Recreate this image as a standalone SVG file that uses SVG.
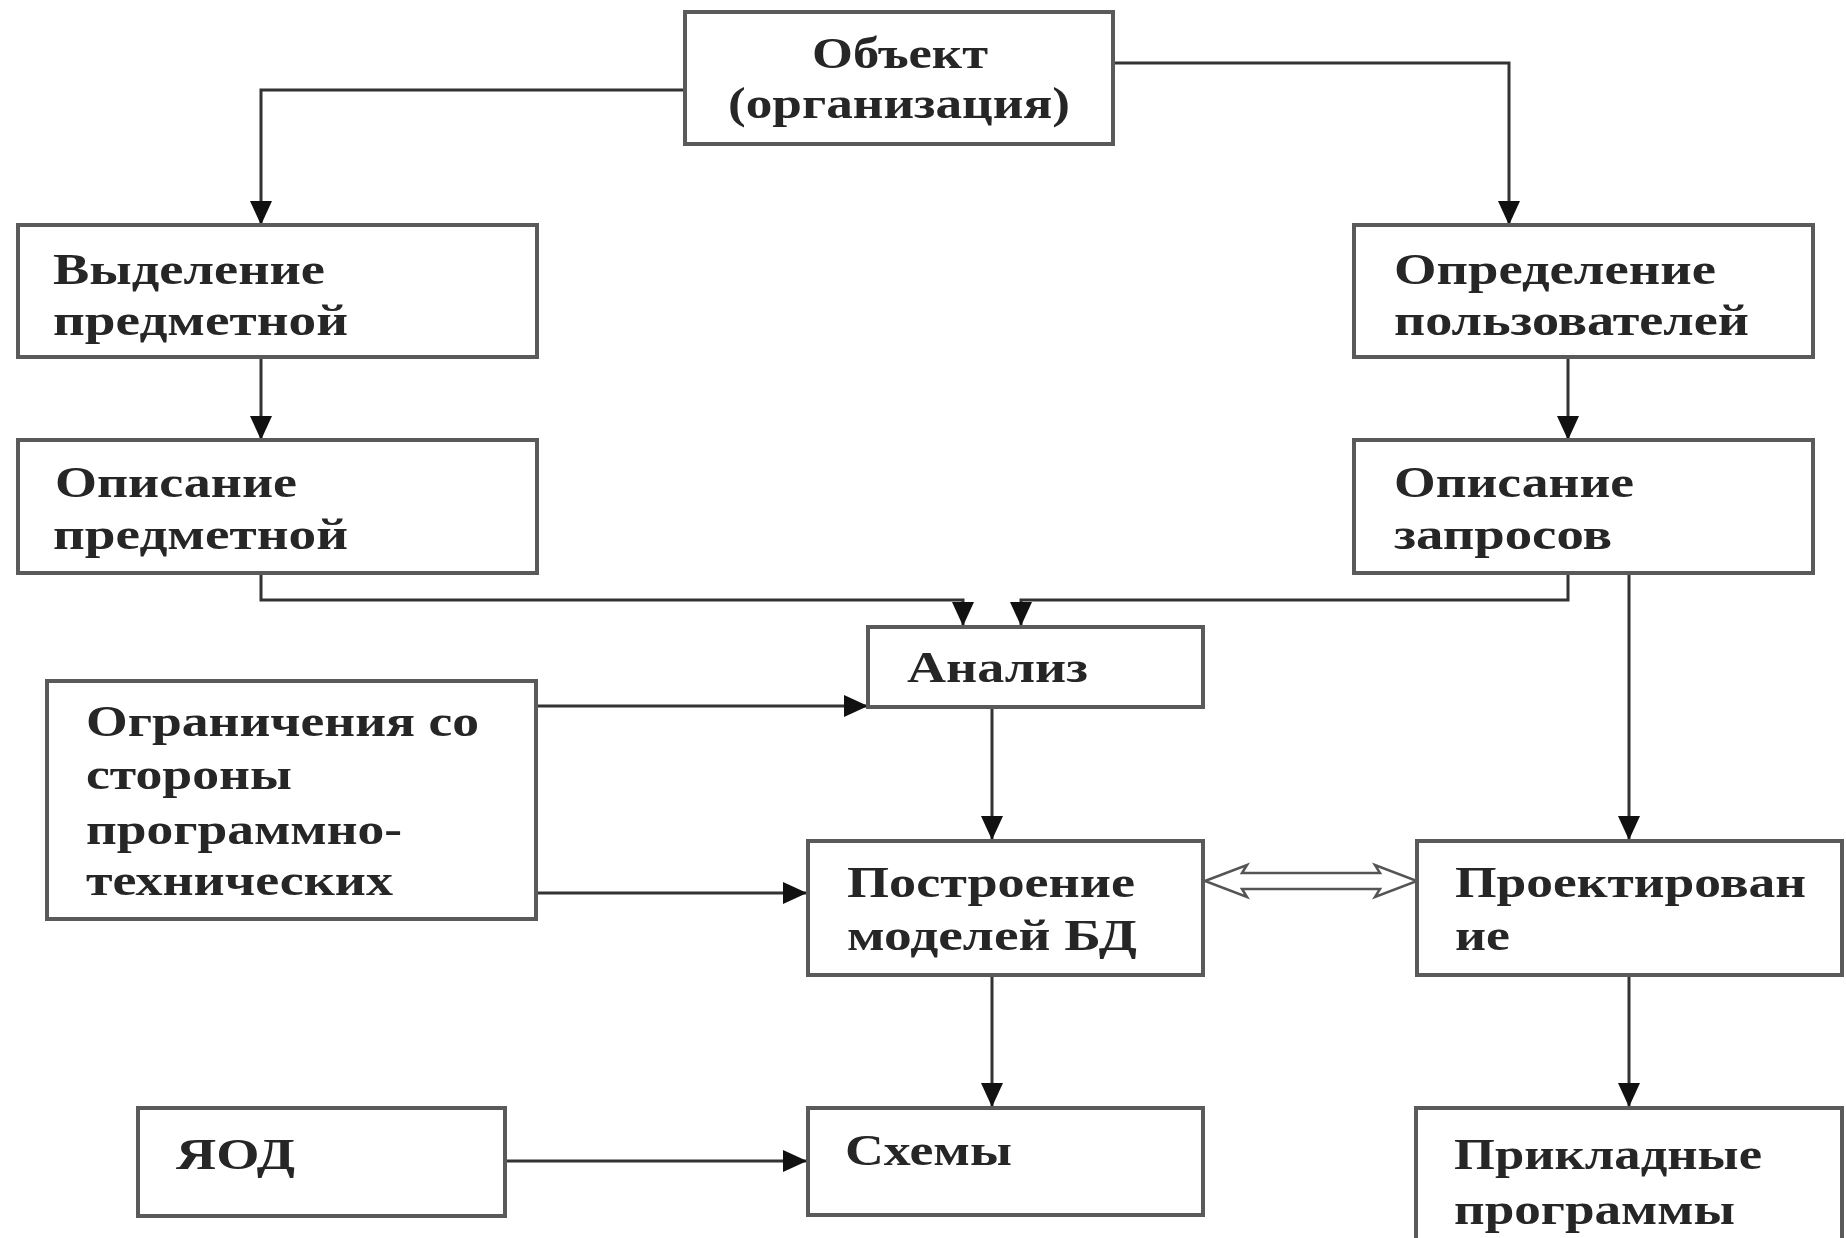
<svg xmlns="http://www.w3.org/2000/svg" width="1846" height="1238" viewBox="0 0 1846 1238">
<style>
.box{fill:#fff;stroke:#5a5a5a;stroke-width:4}
.t{font-family:"Liberation Serif","Times New Roman",serif;font-size:44px;font-weight:bold;fill:#262626}
.c{fill:none;stroke:#333;stroke-width:3}
.arr{marker-end:url(#ah)}
</style>
<defs>
<marker id="ah" markerUnits="userSpaceOnUse" viewBox="0 0 24 22" refX="24" refY="11" markerWidth="24" markerHeight="22" orient="auto">
<path d="M0,0 L24,11 L0,22 Z" fill="#111"/>
</marker>
</defs>
<rect width="1846" height="1238" fill="#fff"/>

<g id="connectors">
<path class="c arr" d="M685,90 H261 V225"/>
<path class="c arr" d="M1113,63 H1509 V225"/>
<path class="c arr" d="M261,357 V440"/>
<path class="c arr" d="M1568,357 V440"/>
<path class="c arr" d="M261,573 V600 H963 V626"/>
<path class="c arr" d="M1568,573 V600 H1021 V626"/>
<path class="c arr" d="M1629,573 V840"/>
<path class="c arr" d="M536,706 H868"/>
<path class="c arr" d="M536,893 H807"/>
<path class="c arr" d="M992,707 V840"/>
<path class="c arr" d="M992,975 V1107"/>
<path class="c arr" d="M1629,975 V1107"/>
<path class="c arr" d="M505,1161 H807"/>
<polygon points="1205,881 1247,865 1242,873 1380,873 1375,865 1417,881 1375,897 1380,889 1242,889 1247,897" fill="#fff" stroke="#555" stroke-width="2.5" stroke-linejoin="miter"/>
</g>

<g id="n-object">
<rect class="box" x="685" y="12" width="428" height="132"/>
<text class="t" x="812" y="68" textLength="176" lengthAdjust="spacingAndGlyphs">Объект</text>
<text class="t" x="728" y="118" textLength="342" lengthAdjust="spacingAndGlyphs">(организация)</text>
</g>

<g id="n-vydelenie">
<rect class="box" x="18" y="225" width="519" height="132"/>
<text class="t" x="53" y="284" textLength="272" lengthAdjust="spacingAndGlyphs">Выделение</text>
<text class="t" x="53" y="335" textLength="295" lengthAdjust="spacingAndGlyphs">предметной</text>
</g>

<g id="n-opisanie-pr">
<rect class="box" x="18" y="440" width="519" height="133"/>
<text class="t" x="55" y="497" textLength="242" lengthAdjust="spacingAndGlyphs">Описание</text>
<text class="t" x="53" y="549" textLength="295" lengthAdjust="spacingAndGlyphs">предметной</text>
</g>

<g id="n-opredelenie">
<rect class="box" x="1354" y="225" width="459" height="132"/>
<text class="t" x="1394" y="284" textLength="322" lengthAdjust="spacingAndGlyphs">Определение</text>
<text class="t" x="1394" y="335" textLength="355" lengthAdjust="spacingAndGlyphs">пользователей</text>
</g>

<g id="n-opisanie-zap">
<rect class="box" x="1354" y="440" width="459" height="133"/>
<text class="t" x="1394" y="497" textLength="240" lengthAdjust="spacingAndGlyphs">Описание</text>
<text class="t" x="1394" y="549" textLength="218" lengthAdjust="spacingAndGlyphs">запросов</text>
</g>

<g id="n-analiz">
<rect class="box" x="868" y="627" width="335" height="80"/>
<text class="t" x="907" y="682" textLength="181" lengthAdjust="spacingAndGlyphs">Анализ</text>
</g>

<g id="n-ogranicheniya">
<rect class="box" x="47" y="681" width="489" height="238"/>
<text class="t" x="86" y="736" textLength="393" lengthAdjust="spacingAndGlyphs">Ограничения со</text>
<text class="t" x="86" y="789" textLength="206" lengthAdjust="spacingAndGlyphs">стороны</text>
<text class="t" x="86" y="844" textLength="316" lengthAdjust="spacingAndGlyphs">программно-</text>
<text class="t" x="86" y="895" textLength="307" lengthAdjust="spacingAndGlyphs">технических</text>
</g>

<g id="n-postroenie">
<rect class="box" x="808" y="841" width="395" height="134"/>
<text class="t" x="847" y="897" textLength="288" lengthAdjust="spacingAndGlyphs">Построение</text>
<text class="t" x="847" y="950" textLength="290" lengthAdjust="spacingAndGlyphs">моделей БД</text>
</g>

<g id="n-proektirovanie">
<rect class="box" x="1417" y="841" width="425" height="134"/>
<text class="t" x="1455" y="897" textLength="351" lengthAdjust="spacingAndGlyphs">Проектирован</text>
<text class="t" x="1455" y="950" textLength="55" lengthAdjust="spacingAndGlyphs">ие</text>
</g>

<g id="n-yod">
<rect class="box" x="138" y="1108" width="367" height="108"/>
<text class="t" x="176" y="1169" textLength="119" lengthAdjust="spacingAndGlyphs">ЯОД</text>
</g>

<g id="n-skhemy">
<rect class="box" x="808" y="1108" width="395" height="107"/>
<text class="t" x="845" y="1165" textLength="167" lengthAdjust="spacingAndGlyphs">Схемы</text>
</g>

<g id="n-prikladnye">
<rect class="box" x="1416" y="1108" width="426" height="150"/>
<text class="t" x="1454" y="1169" textLength="308" lengthAdjust="spacingAndGlyphs">Прикладные</text>
<text class="t" x="1454" y="1224" textLength="281" lengthAdjust="spacingAndGlyphs">программы</text>
</g>
</svg>
